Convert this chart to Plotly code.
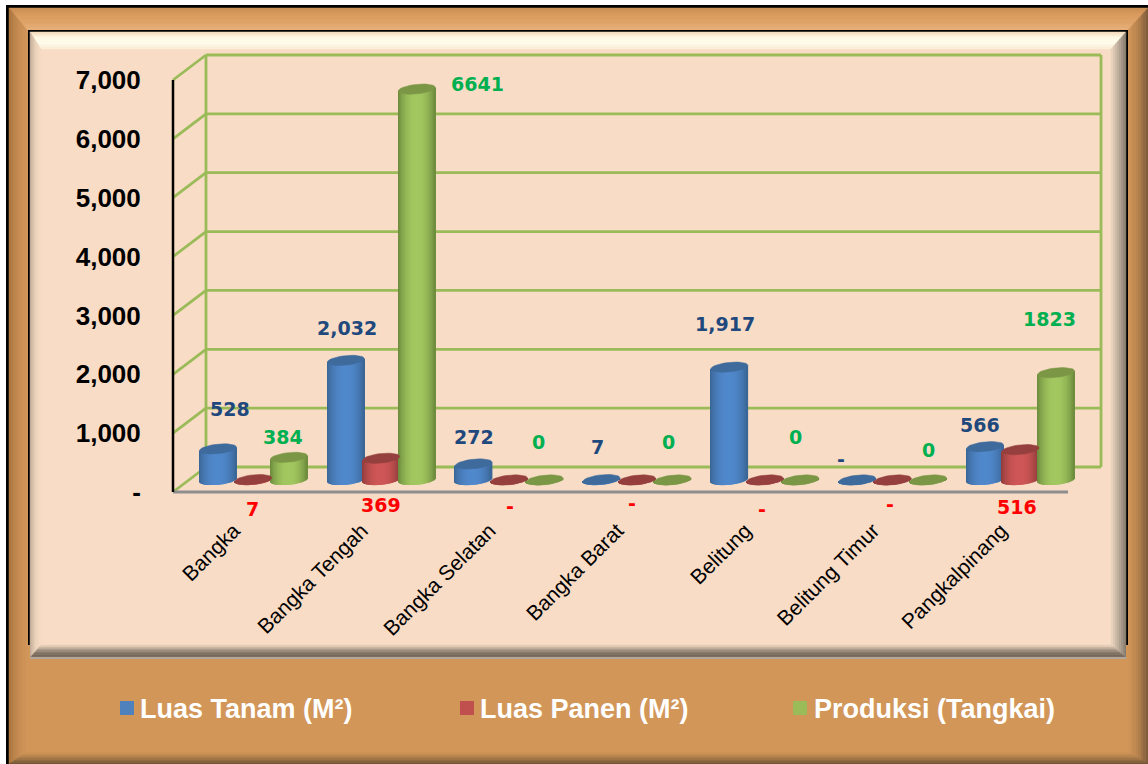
import math
import plotly.graph_objects as go

# ---------- data ----------
categories = ["Bangka", "Bangka Tengah", "Bangka Selatan", "Bangka Barat", "Belitung", "Belitung Timur", "Pangkalpinang"]
luas_tanam = [528, 2032, 272, 7, 1917, 0, 566]
luas_panen = [7, 369, 0, 0, 0, 0, 516]
produksi = [384, 6641, 0, 0, 0, 0, 1823]
y_ticks = [0, 1000, 2000, 3000, 4000, 5000, 6000, 7000]
y_tick_labels = ["-", "1,000", "2,000", "3,000", "4,000", "5,000", "6,000", "7,000"]
tanam_labels = ["528", "2,032", "272", "7", "1,917", "-", "566"]
panen_labels = ["7", "369", "-", "-", "-", "-", "516"]
produksi_labels = ["384", "6641", "0", "0", "0", "0", "1823"]
series_names = ["Luas Tanam (M²)", "Luas Panen (M²)", "Produksi (Tangkai)"]

# ---------- layout constants (pixels of the 1148x764 page) ----------
W, H = 1148, 764
L, R, T, B = 168, 1105, 50, 497   # plot area
X0, Y0 = 173, 492                 # front-left corner of the chart box (x=0, value=0)
XS = 127.86            # px per category
YS = 412 / 7000        # px per value unit
DX, DY = 33 / XS, 25 / YS           # depth of the chart box
BAR_DX, BAR_DY = 16.5 / XS, 12 / YS   # where bars stand in the box
BAR_STEP = 35.5 / XS
BAR_W = 37 / XS
ELL = 4.8 / YS
TILT = 1.8 / YS
N = 37


def xp(px):
    return (px - L) / (R - L)


def yp(py):
    return (B - py) / (B - T)


def hex2rgb(h):
    return [int(h[i:i + 2], 16) for i in (1, 3, 5)]


def mix(stops, t):
    t = max(0, min(1, t)) * (len(stops) - 1)
    i = min(int(t), len(stops) - 2)
    f = t - i
    a, b = hex2rgb(stops[i]), hex2rgb(stops[i + 1])
    return "rgb(%d,%d,%d)" % tuple(round(a[k] + (b[k] - a[k]) * f) for k in range(3))


shapes = []


def bevel(x0, y0, x1, y1, w, top, left, right, bottom, steps=8):
    """w = (top, left, right, bottom) widths; colours run outer -> inner."""
    wt, wl, wr, wb = w
    for s in range(steps):
        a, b = s / steps, (s + 1) / steps
        c = (a + b) / 2
        ox0, oy0, ox1, oy1 = x0 + wl * a, y0 + wt * a, x1 - wr * a, y1 - wb * a
        ix0, iy0, ix1, iy1 = x0 + wl * b, y0 + wt * b, x1 - wr * b, y1 - wb * b
        quads = [
            (top, [(ox0, oy0), (ox1, oy0), (ix1, iy0), (ix0, iy0)]),
            (left, [(ox0, oy0), (ix0, iy0), (ix0, iy1), (ox0, oy1)]),
            (right, [(ox1, oy0), (ix1, iy0), (ix1, iy1), (ox1, oy1)]),
            (bottom, [(ox0, oy1), (ox1, oy1), (ix1, iy1), (ix0, iy1)]),
        ]
        for stops, pts in quads:
            path = "M " + " L ".join("%.5f %.5f" % (xp(p[0]), yp(p[1])) for p in pts) + " Z"
            col = mix(stops, c)
            shapes.append(dict(type="path", path=path, xref="paper", yref="paper", layer="below",
                               fillcolor=col, line=dict(color=col, width=0.5)))


def rect(x0, y0, x1, y1, color):
    shapes.append(dict(type="rect", xref="paper", yref="paper", layer="below",
                       x0=xp(x0), x1=xp(x1), y0=yp(y0), y1=yp(y1), fillcolor=color, line=dict(width=0)))


# outer frame
rect(6, 5, W, 8, "#000000")
rect(6, 5, 9, H, "#000000")
rect(9, 8, W, H, "#D29659")
bevel(9, 8, W, H, (22, 18, 20, 12),
      ["#C98D52", "#DB9C60", "#DFA368", "#E6B27C"],
      ["#A87540", "#C58B52", "#D29659"],
      ["#7A5A3C", "#B5824E", "#D29659"],
      ["#6A5235", "#A87A48", "#D29659"])
# inner plate
rect(28, 30, 1128, 658, "#000000")
rect(30, 32, 1126, 658, "#F8DCC5")
bevel(30, 32, 1126, 658, (17, 11, 15, 13),
      ["#F3D8B8", "#FFF9E4", "#FFFDEE", "#FBEBD4"],
      ["#BDA893", "#E8D0BA", "#F8DCC5"],
      ["#7F7668", "#B8A998", "#F0D8C2"],
      ["#6F6356", "#7C6E60", "#A69686", "#F4DAC4"])
rect(28, 645, 30, 658, "#D29659")
rect(30, 657, 1126, 659, "#B3A79B")
rect(1126, 645, 1128, 660, "#D29659")

GREEN_LINE = "#9BBB59"


def data_line(x0, y0, x1, y1, color, width):
    shapes.append(dict(type="line", xref="x", yref="y", layer="below", x0=x0, y0=y0, x1=x1, y1=y1,
                       line=dict(color=color, width=width)))


# box walls, drawn on the value axis
n_cat = len(categories)
for v in y_ticks:
    data_line(0, v, DX, v + DY, GREEN_LINE, 2.8)
    data_line(DX, v + DY, n_cat + DX, v + DY, GREEN_LINE, 2.8)
data_line(DX, DY, DX, y_ticks[-1] + DY, GREEN_LINE, 2.8)
data_line(n_cat + DX, DY, n_cat + DX, y_ticks[-1] + DY, GREEN_LINE, 2.8)
data_line(0, 0, n_cat, 0, "#8E8E8E", 3)
data_line(0, 0, 0, y_ticks[-1], "#000000", 2.5)

# ---------- cylinders ----------
styles = [
    dict(edge="#3A6595", mid="#5088CC", cap="#3F6A9C", label="#1F497D", swatch="#4F81BD"),
    dict(edge="#8F3C3A", mid="#CF5656", cap="#95403E", label="#FF0000", swatch="#C0504D"),
    dict(edge="#6B8A3B", mid="#A3C760", cap="#7B9746", label="#00B050", swatch="#9BBB59"),
]
series = [luas_tanam, luas_panen, produksi]

fig = go.Figure()
for s, (vals, st) in enumerate(zip(series, styles)):
    xs, bases, heights, colors = [], [], [], []
    for c, v in enumerate(vals):
        cx = c + 0.5 + BAR_DX + (s - 1) * BAR_STEP
        for k in range(N):
            u = -1 + (2 * k + 1) / N
            bot = BAR_DY + TILT * u - ELL * math.sqrt(max(0, 1 - u * u))
            top = v + BAR_DY + TILT * u
            xs.append(cx + u * BAR_W / 2)
            bases.append(bot)
            heights.append(top - bot)
            colors.append(mix([st["mid"], st["edge"]], abs(u) ** 2.2))
    fig.add_trace(go.Bar(x=xs, y=heights, base=bases, width=BAR_W / N * 1.5,
                         marker=dict(color=colors, line=dict(width=0)),
                         showlegend=False, hoverinfo="skip"))
    cap_x, cap_y = [], []
    for c, v in enumerate(vals):
        cx = c + 0.5 + BAR_DX + (s - 1) * BAR_STEP
        for a in range(0, 361, 10):
            t = math.radians(a)
            u = math.cos(t)
            cap_x.append(cx + u * BAR_W / 2)
            cap_y.append(v + BAR_DY + TILT * u + ELL * math.sin(t))
        cap_x.append(None)
        cap_y.append(None)
    fig.add_trace(go.Scatter(x=cap_x, y=cap_y, mode="lines", fill="toself", fillcolor=st["cap"],
                             line=dict(width=0.5, color=st["cap"]), showlegend=False, hoverinfo="skip"))

# ---------- data labels (hand-placed in the reference) ----------
tanam_label_px = [(230, 409), (347, 328), (474, 437), (597, 447), (725, 324), (841, 459), (980, 425)]
panen_label_px = [(252, 509), (381, 505), (510, 506), (632, 503), (762, 509), (890, 504), (1017, 507)]
produksi_label_px = [(283, 437), (477, 84), (538, 442), (668, 442), (795, 437), (928, 450), (1049, 319)]
annotations = []
for texts, places, st in zip([tanam_labels, panen_labels, produksi_labels],
                             [tanam_label_px, panen_label_px, produksi_label_px], styles):
    for text, (px, py) in zip(texts, places):
        annotations.append(dict(x=xp(px), y=yp(py), xref="paper", yref="paper", text=text, showarrow=False,
                                xanchor="center", yanchor="middle",
                                font=dict(family="DejaVu Sans", size=19, color=st["label"], weight="bold")))

# ---------- legends: one per series so each sits where the reference has it ----------
legend_px = [100, 440, 774]
swatch_px = [120, 460, 793]
legend_names = ["legend", "legend2", "legend3"]
legends = {}
for name, label, st, px, sx in zip(legend_names, series_names, styles, legend_px, swatch_px):
    fig.add_trace(go.Scatter(x=[None], y=[None], mode="markers", name=label, legend=name,
                             marker=dict(symbol="square", size=14, color="rgba(0,0,0,0)")))
    legends[name] = dict(x=xp(px), y=yp(708), xanchor="left", yanchor="middle", bgcolor="rgba(0,0,0,0)",
                         itemsizing="trace", borderwidth=0,
                         font=dict(family="Liberation Sans", size=27, color="#FFFFFF", weight="bold"))
    rect(sx, 701, sx + 14, 715, st["swatch"])

fig.update_layout(
    width=W, height=H, autosize=False,
    margin=dict(l=L, r=W - R, t=T, b=H - B, pad=0),
    paper_bgcolor="#FFFFFF", plot_bgcolor="rgba(0,0,0,0)",
    barmode="overlay", shapes=shapes, annotations=annotations, showlegend=True,
    xaxis=dict(range=[(L - X0) / XS, (R - X0) / XS], tickmode="array",
               tickvals=[i + 0.5 - 3 / XS for i in range(n_cat)],
               ticktext=categories, tickangle=-45, showgrid=False, zeroline=False, showline=False,
               ticks="outside", ticklen=12, tickcolor="rgba(0,0,0,0)", automargin=False,
               tickfont=dict(family="Liberation Sans", size=21, color="#000000")),
    yaxis=dict(range=[(Y0 - B) / YS, (Y0 - T) / YS], tickmode="array", tickvals=y_ticks, ticktext=y_tick_labels,
               showgrid=False, zeroline=False, showline=False, ticks="outside", ticklen=21,
               tickcolor="rgba(0,0,0,0)", automargin=False,
               tickfont=dict(family="Liberation Sans", size=26, color="#000000", weight="bold")),
    **legends,
)

fig.write_html("out.html", post_script="document.body.style.margin='0';", config={"displayModeBar": False})
